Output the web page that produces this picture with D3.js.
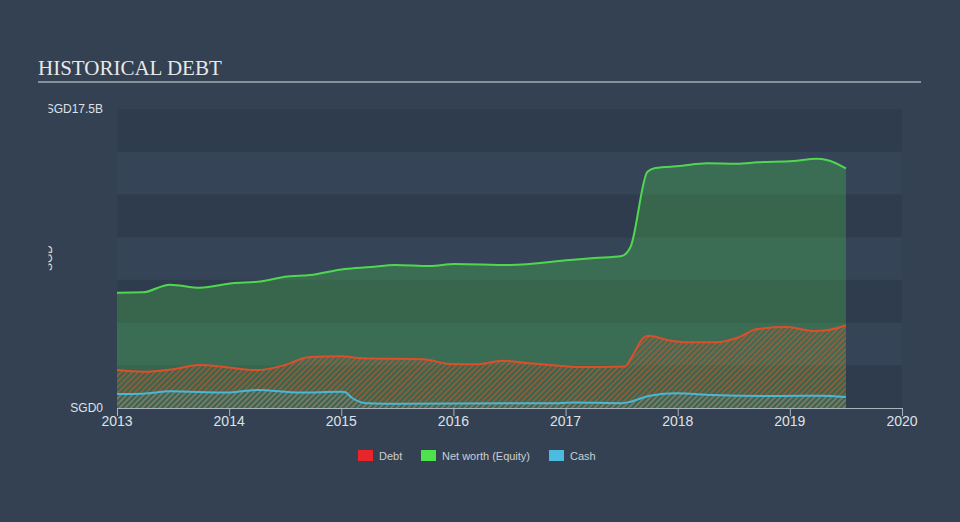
<!DOCTYPE html>
<html>
<head>
<meta charset="utf-8">
<script src="https://cdn.jsdelivr.net/npm/d3@7/dist/d3.min.js"></script>
<style>
  html, body { margin: 0; padding: 0; background: #344152; }
  svg { display: block; }
</style>
</head>
<body>
<svg id="chart" width="960" height="522"></svg>
<script>
// ---- Data (SGD billions, decimal years) ----
const netWorthYears = [2013.00, 2013.23, 2013.47, 2013.74, 2014.03, 2014.25, 2014.52, 2014.72, 2015.03, 2015.26, 2015.48, 2015.79, 2016.01, 2016.50, 2017.04, 2017.26, 2017.50, 2017.58, 2017.73, 2017.80, 2018.02, 2018.26, 2018.53, 2018.71, 2019.03, 2019.24, 2019.33, 2019.50];
const netWorthValues = [6.75, 6.77, 7.22, 7.04, 7.30, 7.39, 7.69, 7.78, 8.14, 8.25, 8.37, 8.31, 8.43, 8.37, 8.66, 8.78, 8.90, 9.44, 13.83, 14.05, 14.16, 14.32, 14.30, 14.38, 14.46, 14.59, 14.52, 14.03];

const debtYears = [2013.00, 2013.23, 2013.50, 2013.74, 2013.98, 2014.25, 2014.48, 2014.72, 2014.99, 2015.19, 2015.73, 2015.97, 2016.21, 2016.44, 2016.68, 2016.86, 2017.13, 2017.53, 2017.60, 2017.69, 2017.74, 2017.91, 2018.08, 2018.35, 2018.53, 2018.71, 2018.97, 2019.21, 2019.33, 2019.50];
const debtValues = [2.22, 2.12, 2.27, 2.52, 2.38, 2.22, 2.48, 2.99, 3.03, 2.91, 2.85, 2.58, 2.56, 2.77, 2.62, 2.52, 2.40, 2.43, 3.10, 4.08, 4.23, 3.98, 3.85, 3.85, 4.11, 4.62, 4.74, 4.51, 4.55, 4.84];

const cashYears = [2013.00, 2013.23, 2013.47, 2013.98, 2014.25, 2014.63, 2014.99, 2015.03, 2015.10, 2015.23, 2015.52, 2016.86, 2017.08, 2017.50, 2017.58, 2017.75, 2017.99, 2018.31, 2018.91, 2019.27, 2019.50];
const cashValues = [0.82, 0.84, 0.98, 0.90, 1.05, 0.90, 0.95, 0.93, 0.57, 0.28, 0.25, 0.28, 0.32, 0.28, 0.37, 0.72, 0.86, 0.76, 0.70, 0.72, 0.64];

const yearTicks = [2013, 2014, 2015, 2016, 2017, 2018, 2019, 2020];
const yTickValues = [0, 17.5];
const yTickLabels = ["SGD0", "SGD17.5B"];
const bandEdges = [0, 2.5, 5, 7.5, 10, 12.5, 15, 17.5];
const legendLabels = ["Debt", "Net worth (Equity)", "Cash"];
const legendColors = ["#e8262a", "#4ee34e", "#4bbbe0"];

// ---- Layout ----
const svg = d3.select("#chart");
const x = d3.scaleLinear().domain([2013, 2020]).range([117, 902]);
const y = d3.scaleLinear().domain([0, 17.5]).range([408, 109]);

const zip = (xs, vs) => xs.map((d, i) => ({ t: d, v: vs[i] }));
const netWorth = zip(netWorthYears, netWorthValues);
const debt = zip(debtYears, debtValues);
const cash = zip(cashYears, cashValues);

// Title
svg.append("text")
  .attr("x", 38).attr("y", 75)
  .attr("font-family", "'Liberation Serif', 'Times New Roman', serif")
  .attr("font-size", 21)
  .attr("fill", "#e8e8e8")
  .text("HISTORICAL DEBT");
svg.append("line")
  .attr("x1", 38).attr("x2", 921).attr("y1", 82).attr("y2", 82)
  .attr("stroke", "#a3abb4").attr("stroke-width", 1.5);

// Defs
const defs = svg.append("defs");
function hatch(id, color, op) {
  const p = defs.append("pattern")
    .attr("id", id).attr("patternUnits", "userSpaceOnUse")
    .attr("width", 4).attr("height", 4)
    .attr("patternTransform", "rotate(45)");
  p.append("rect").attr("x", 0).attr("y", 0).attr("width", 1.6).attr("height", 4)
    .attr("fill", color).attr("fill-opacity", op);
}
hatch("debtHatch", "#e0542c", 0.6);
hatch("cashHatch", "#4bbbe0", 0.35);
defs.append("clipPath").attr("id", "labelClip")
  .append("rect").attr("x", 48.5).attr("y", 0).attr("width", 70).attr("height", 522);

// Bands
const bands = svg.append("g");
for (let i = 0; i < bandEdges.length - 1; i++) {
  const lo = bandEdges[i], hi = bandEdges[i + 1];
  bands.append("rect")
    .attr("x", x(2013)).attr("width", x(2020) - x(2013))
    .attr("y", y(hi)).attr("height", y(lo) - y(hi))
    .attr("fill", i % 2 === 0 ? "#2f3c4d" : "#354456");
}

// Areas
const curve = d3.curveMonotoneX;
const area = d3.area().x(d => x(d.t)).y0(y(0)).y1(d => y(d.v)).curve(curve);
const line = d3.line().x(d => x(d.t)).y(d => y(d.v)).curve(curve);

svg.append("path").datum(netWorth).attr("d", area)
  .attr("fill", "#4ee34e").attr("fill-opacity", 0.25);
svg.append("path").datum(debt).attr("d", area)
  .attr("fill", "url(#debtHatch)");
svg.append("path").datum(cash).attr("d", area)
  .attr("fill", "url(#cashHatch)");

svg.append("path").datum(netWorth).attr("d", line)
  .attr("fill", "none").attr("stroke", "#4fd84f").attr("stroke-width", 2);
svg.append("path").datum(debt).attr("d", line)
  .attr("fill", "none").attr("stroke", "#dc4f2b").attr("stroke-width", 2);
svg.append("path").datum(cash).attr("d", line)
  .attr("fill", "none").attr("stroke", "#49b7d8").attr("stroke-width", 2);

// X axis
const xAxis = svg.append("g");
xAxis.append("line")
  .attr("x1", x(2013)).attr("x2", x(2020)).attr("y1", 408.5).attr("y2", 408.5)
  .attr("stroke", "#aab2bc").attr("stroke-width", 1);
xAxis.selectAll(".tick").data(yearTicks).enter().append("line")
  .attr("x1", d => x(d) + 0.5).attr("x2", d => x(d) + 0.5)
  .attr("y1", 408).attr("y2", 416)
  .attr("stroke", "#aab2bc").attr("stroke-width", 1);
xAxis.selectAll(".lbl").data(yearTicks).enter().append("text")
  .attr("x", d => x(d)).attr("y", 426)
  .attr("text-anchor", "middle")
  .attr("font-family", "'Liberation Sans', Arial, sans-serif")
  .attr("font-size", 14)
  .attr("fill", "#dde2e8")
  .text(d => d3.format("d")(d));

// Y labels (clipped on the left like the reference)
const yLab = svg.append("g").attr("clip-path", "url(#labelClip)");
yLab.selectAll("text.yl").data(yTickValues).enter().append("text")
  .attr("x", 103).attr("y", d => y(d) + 4)
  .attr("text-anchor", "end")
  .attr("font-family", "'Liberation Sans', Arial, sans-serif")
  .attr("font-size", 12)
  .attr("fill", "#dde2e8")
  .text((d, i) => yTickLabels[i]);
yLab.append("text")
  .attr("transform", "translate(52,258) rotate(-90)")
  .attr("text-anchor", "middle")
  .attr("font-family", "'Liberation Sans', Arial, sans-serif")
  .attr("font-size", 12)
  .attr("fill", "#dde2e8")
  .text("SGD");

// Legend
const legendX = [358, 421, 549];
const legend = svg.append("g");
legendLabels.forEach((lab, i) => {
  legend.append("rect")
    .attr("x", legendX[i]).attr("y", 450)
    .attr("width", 15).attr("height", 11)
    .attr("fill", legendColors[i]);
  legend.append("text")
    .attr("x", legendX[i] + 21).attr("y", 460)
    .attr("font-family", "'Liberation Sans', Arial, sans-serif")
    .attr("font-size", 11)
    .attr("fill", "#c9ced4")
    .text(lab);
});
</script>
</body>
</html>
